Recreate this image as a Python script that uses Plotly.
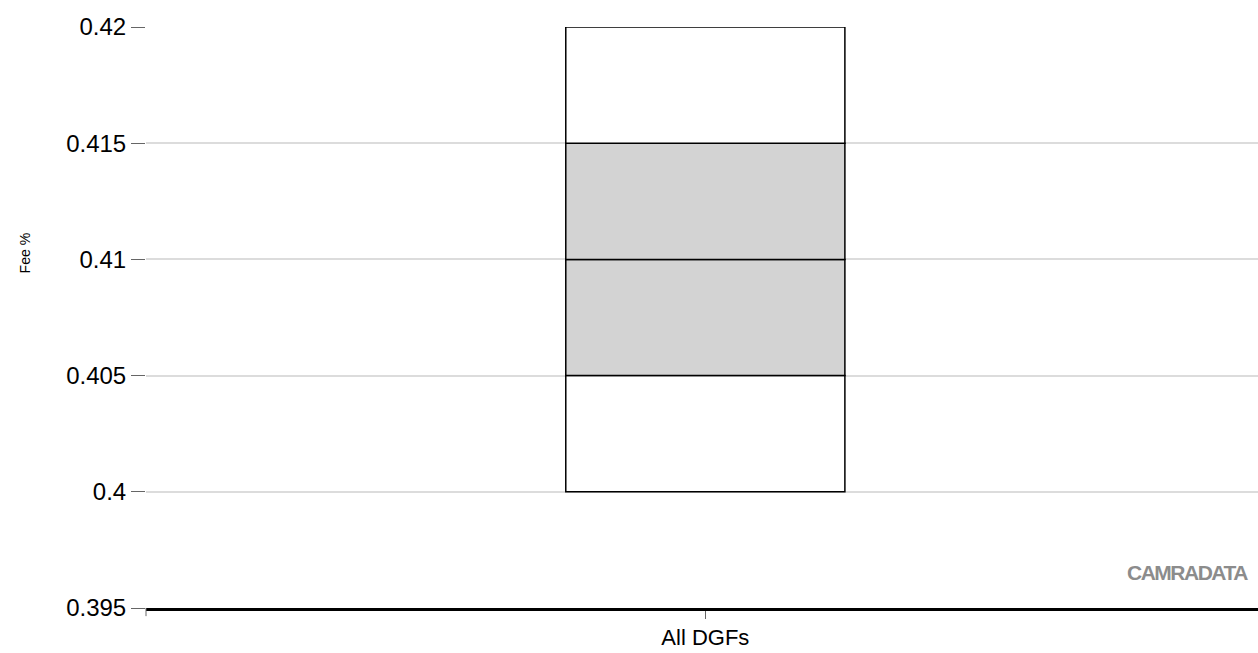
import plotly.graph_objects as go

categories = ["All DGFs"]
low = [0.400]
q1 = [0.405]
median = [0.410]
q3 = [0.415]
high = [0.420]
y_ticks = [0.395, 0.4, 0.405, 0.41, 0.415, 0.42]
y_tick_labels = ["0.395", "0.4", "0.405", "0.41", "0.415", "0.42"]

segments = [
    (low, q1, "white"),
    (q1, median, "#d3d3d3"),
    (median, q3, "#d3d3d3"),
    (q3, high, "white"),
]

fig = go.Figure()
for base, top, color in segments:
    fig.add_trace(go.Bar(
        x=categories,
        y=[t - b for b, t in zip(base, top)],
        base=base,
        width=0.251,
        marker=dict(color=color, line=dict(color="black", width=1.5)),
        hoverinfo="skip",
        showlegend=False,
    ))

fig.update_layout(
    width=1258, height=653,
    margin=dict(l=146, r=0, t=27, b=45),
    paper_bgcolor="white", plot_bgcolor="white",
    barmode="overlay",
    font=dict(family="Liberation Sans, Arial, sans-serif", color="black"),
    yaxis=dict(
        range=[0.395, 0.42],
        tickvals=y_ticks, ticktext=y_tick_labels,
        tickfont=dict(size=24),
        showgrid=True, gridcolor="#dcdcdc", gridwidth=2,
        ticks="outside", ticklen=14, tickcolor="#666666", tickwidth=1,
        showline=False, zeroline=False,
    ),
    xaxis=dict(
        range=[-0.503, 0.497],
        tickfont=dict(size=22),
        showline=True, linecolor="black", linewidth=3,
        ticks="outside", ticklen=8, tickcolor="#666666", tickwidth=1,
        showgrid=False, zeroline=False,
    ),
    annotations=[
        dict(
            text="<span style='letter-spacing:-1.5px'><b>CAMRADATA</b></span>",
            xref="paper", yref="paper",
            x=0.993, y=0.061, xanchor="right", yanchor="middle",
            showarrow=False,
            font=dict(family="Liberation Sans, Arial, sans-serif", size=21, color="#8c8c8c"),
        ),
        dict(
            text="Fee %", xref="paper", yref="paper",
            x=-0.109, y=0.61, xanchor="center", yanchor="middle",
            textangle=-90, showarrow=False,
            font=dict(size=14),
        ),
    ],
    shapes=[dict(type="line", xref="paper", yref="paper", x0=0, x1=0, y0=0, y1=-0.014,
                 line=dict(color="#666666", width=1))],
)

fig.write_html("out.html", config={"displayModeBar": False},
               post_script="document.body.style.margin='0';document.body.style.overflow='hidden';")
